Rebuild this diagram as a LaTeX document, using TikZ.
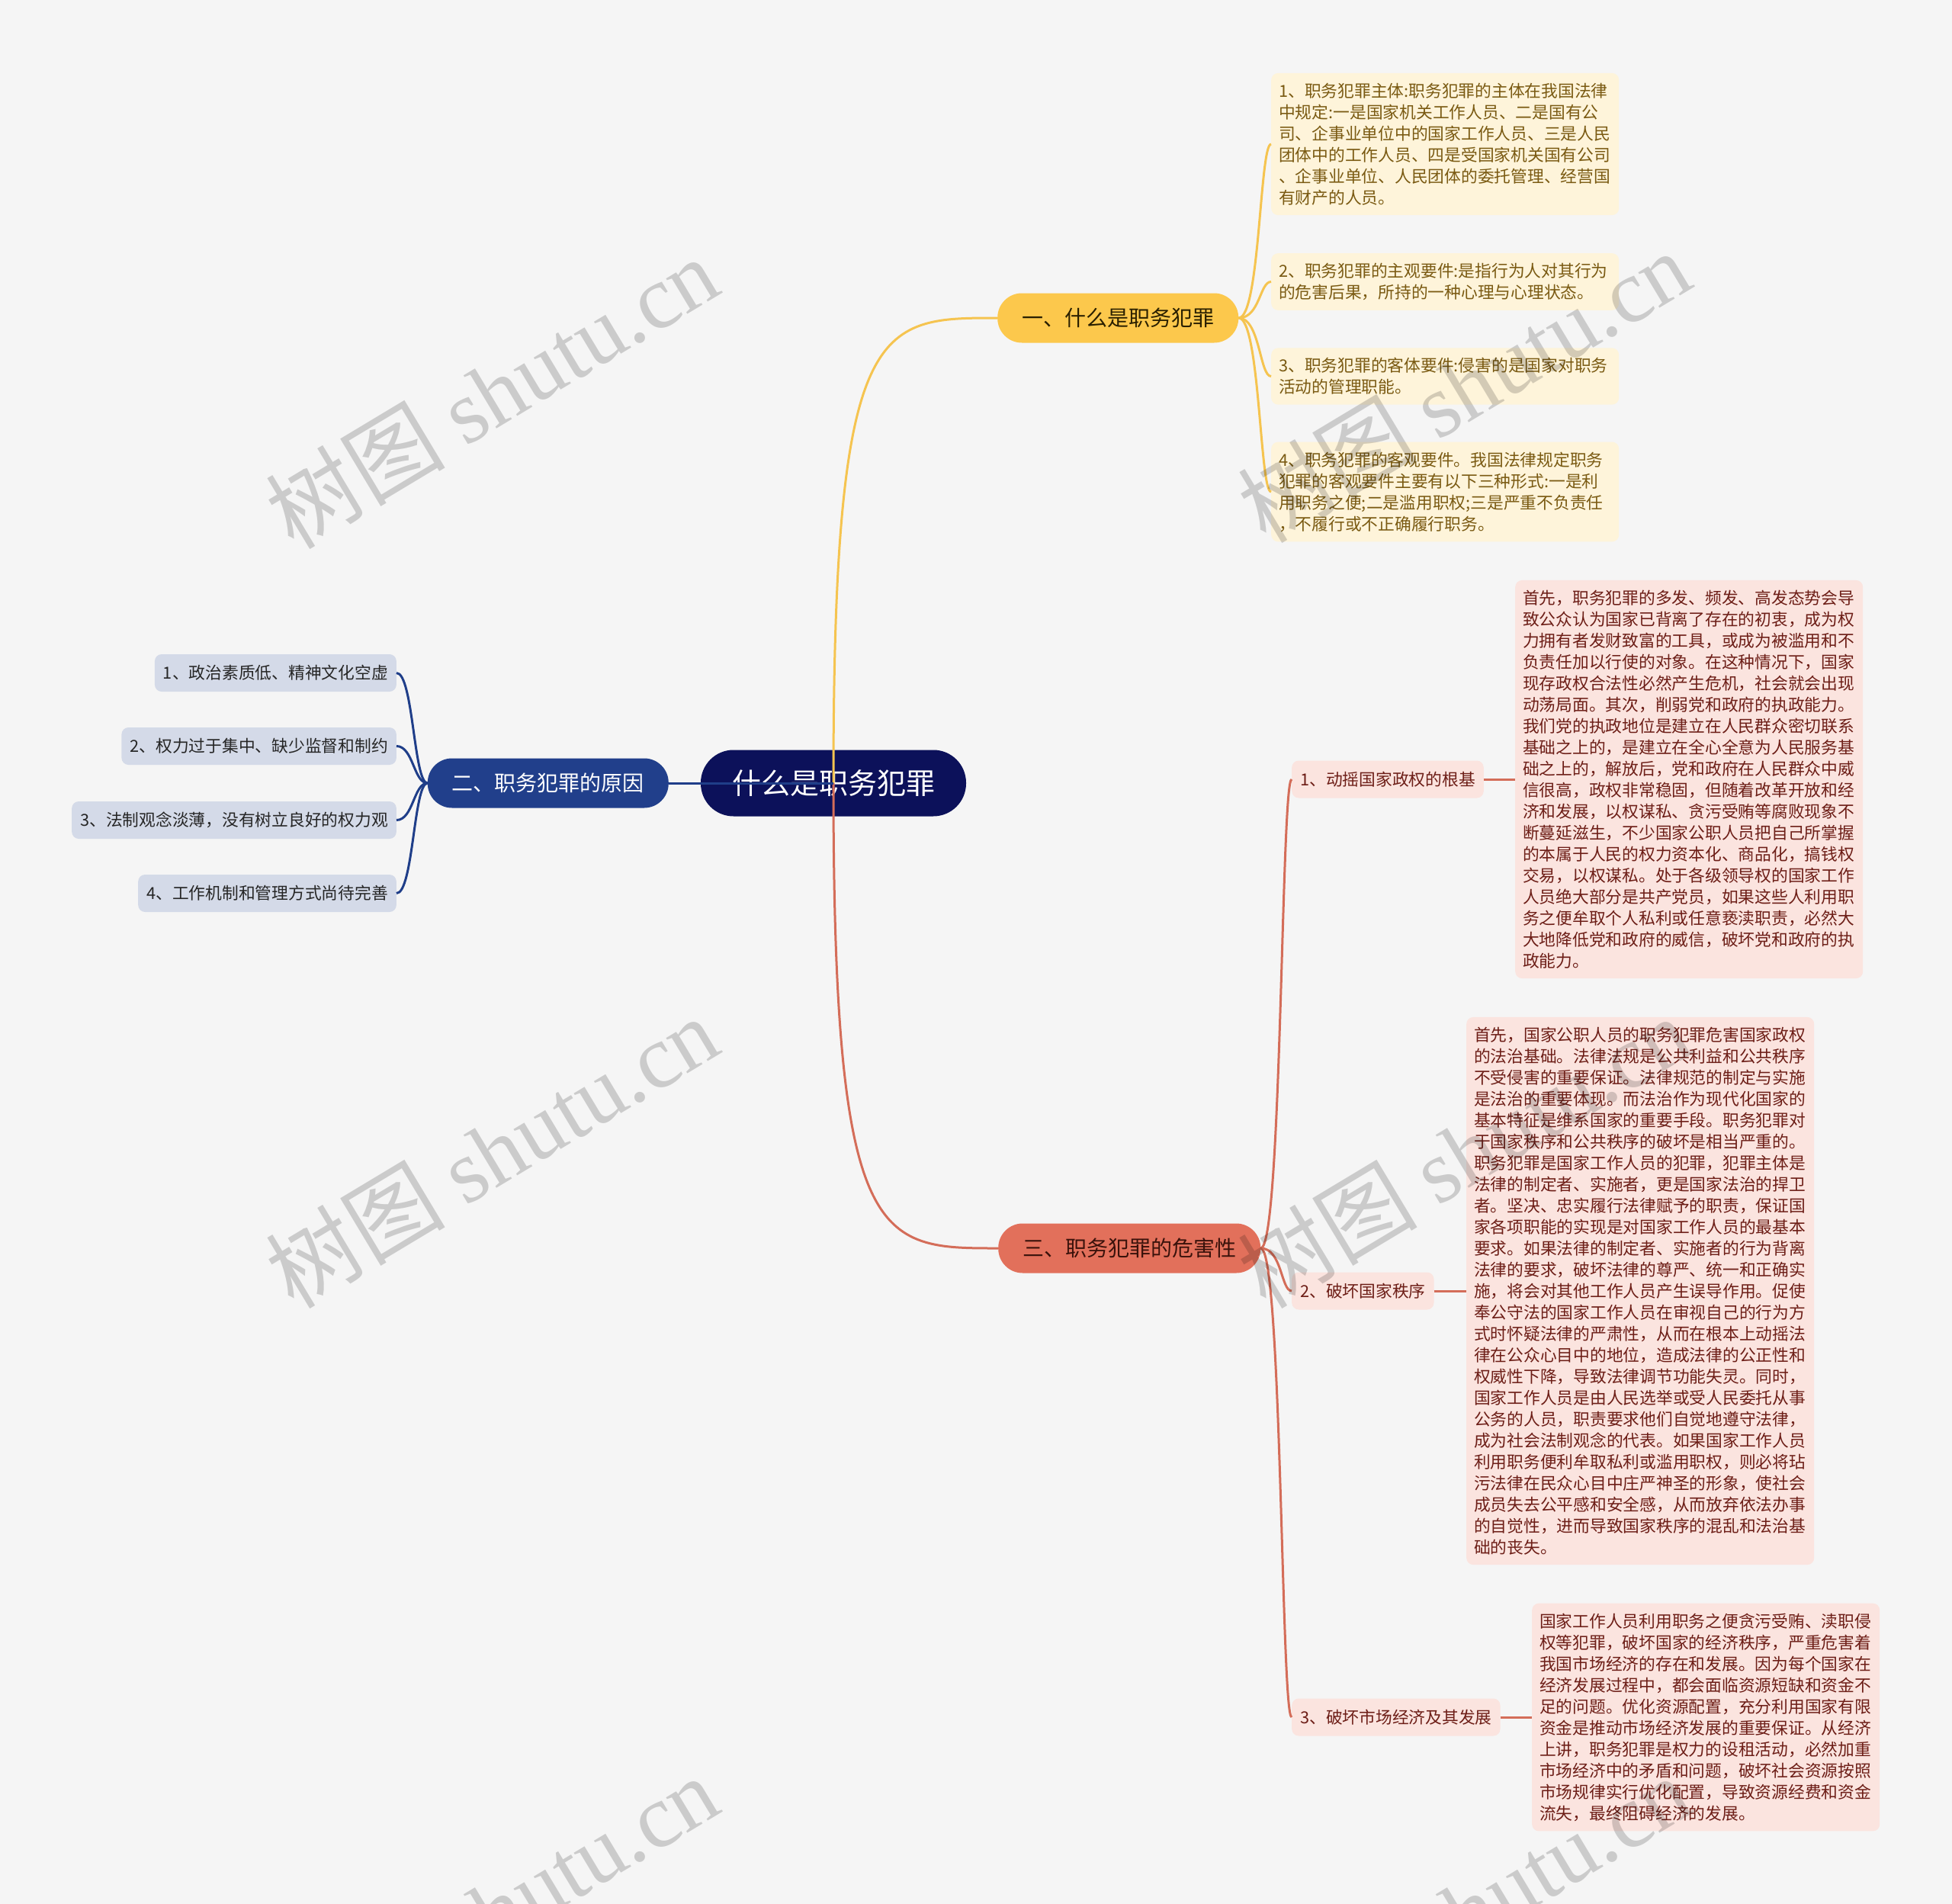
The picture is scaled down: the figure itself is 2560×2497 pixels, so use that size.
\documentclass[tikz,border=0pt]{standalone}
\usepackage{fontspec}
\setmainfont{Noto Sans CJK SC}
\newfontfamily\wmserif{Liberation Serif}
\usetikzlibrary{calc}
\definecolor{bgc}{HTML}{F5F5F5}
\definecolor{rootc}{HTML}{0C115A}
\definecolor{yfill}{HTML}{FCC84C}
\definecolor{ycol}{HTML}{F5C450}
\definecolor{ytext}{HTML}{2A2000}
\definecolor{ybox}{HTML}{FEF4DA}
\definecolor{yboxtext}{HTML}{7A5A12}
\definecolor{bfill}{HTML}{213F8B}
\definecolor{bcol}{HTML}{1F3E89}
\definecolor{bbox}{HTML}{D4DAE8}
\definecolor{bboxtext}{HTML}{262626}
\definecolor{rfill}{HTML}{E2705B}
\definecolor{rcol}{HTML}{D46D59}
\definecolor{rtext}{HTML}{3A120B}
\definecolor{rbox}{HTML}{FBE4DF}
\definecolor{rboxtext}{HTML}{6D1E17}
\tikzset{
  rootbox/.style={fill=rootc, text=white, rounded corners=43pt, minimum width=348pt,
    minimum height=87pt, inner sep=0pt, font=\fontsize{38}{44}\selectfont},
  branchbox/.style={rounded corners=32pt, minimum height=65pt, inner xsep=32pt,
    inner ysep=0pt, font=\fontsize{28}{32}\selectfont},
  leafbox/.style={rounded corners=9pt, minimum height=49pt, inner xsep=11pt,
    inner ysep=0pt, font=\fontsize{21.75}{28}\selectfont},
  textbox/.style={rounded corners=9pt, text width=436pt, align=left, inner xsep=10pt,
    inner ysep=13pt, font=\fontsize{21.75}{28}\selectfont},
  link/.style={line width=3pt},
  wm/.style={rotate=31, text=black, text opacity=0.17, inner sep=0pt,
    font=\fontsize{118}{130}\selectfont}
}
\begin{document}
\begin{tikzpicture}[x=1pt,y=-1pt]
\useasboundingbox (0,0) rectangle (2560,2497);
\clip (0,0) rectangle (2560,2497);
\fill[bgc] (0,0) rectangle (2560,2497);

% root and main branches
\node[rootbox] (root) at (1093,1027) {什么是职务犯罪};
\node[branchbox, fill=yfill, text=ytext, anchor=west] (b1) at (1308,417) {一、什么是职务犯罪};
\node[branchbox, fill=bfill, text=white, anchor=east] (b2) at (877,1027) {二、职务犯罪的原因};
\node[branchbox, fill=rfill, text=rtext, anchor=west] (b3) at (1309,1637) {三、职务犯罪的危害性};

\draw[link, ycol] (root.center) .. controls (root.center |- b1.west) and ([xshift=-158pt]b1.west) .. (b1.west);
\draw[link, rcol] (root.center) .. controls (root.center |- b3.west) and ([xshift=-158pt]b3.west) .. (b3.west);
\draw[link, bcol] (root.center) -- (b2.east);

% yellow group
\node[textbox, fill=ybox, text=yboxtext, anchor=west] (y1) at (1667,189) {1、职务犯罪主体:职务犯罪的主体在我国法律\\中规定:一是国家机关工作人员、二是国有公\\司、企事业单位中的国家工作人员、三是人民\\团体中的工作人员、四是受国家机关国有公司\\、企事业单位、人民团体的委托管理、经营国\\有财产的人员。};
\node[textbox, fill=ybox, text=yboxtext, anchor=west] (y2) at (1667,369.5) {2、职务犯罪的主观要件:是指行为人对其行为\\的危害后果，所持的一种心理与心理状态。};
\node[textbox, fill=ybox, text=yboxtext, anchor=west] (y3) at (1667,493.5) {3、职务犯罪的客体要件:侵害的是国家对职务\\活动的管理职能。};
\node[textbox, fill=ybox, text=yboxtext, anchor=west] (y4) at (1667,645) {4、职务犯罪的客观要件。我国法律规定职务\\犯罪的客观要件主要有以下三种形式:一是利\\用职务之便;二是滥用职权;三是严重不负责任\\，不履行或不正确履行职务。};
\foreach \n in {y1,y2,y3,y4}
  \draw[link, ycol] (b1.east) .. controls +(28,0) and +(-15,0) .. (\n.west);

% blue group
\node[leafbox, fill=bbox, text=bboxtext, anchor=east] (l1) at (520,882.5) {1、政治素质低、精神文化空虚};
\node[leafbox, fill=bbox, text=bboxtext, anchor=east] (l2) at (520,978.5) {2、权力过于集中、缺少监督和制约};
\node[leafbox, fill=bbox, text=bboxtext, anchor=east] (l3) at (520,1075.5) {3、法制观念淡薄，没有树立良好的权力观};
\node[leafbox, fill=bbox, text=bboxtext, anchor=east] (l4) at (520,1171.5) {4、工作机制和管理方式尚待完善};
\foreach \n in {l1,l2,l3,l4}
  \draw[link, bcol] (b2.west) .. controls +(-18,0) and +(22,0) .. (\n.east);

% red group
\node[leafbox, fill=rbox, text=rboxtext, anchor=west] (r1) at (1694,1022) {1、动摇国家政权的根基};
\node[leafbox, fill=rbox, text=rboxtext, anchor=west] (r2) at (1694,1693) {2、破坏国家秩序};
\node[leafbox, fill=rbox, text=rboxtext, anchor=west] (r3) at (1694,2252) {3、破坏市场经济及其发展};
\foreach \n in {r1,r2,r3}
  \draw[link, rcol] (b3.east) .. controls +(28,0) and +(-14,0) .. (\n.west);

\node[textbox, fill=rbox, text=rboxtext, anchor=west] (t1) at (1987,1022) {首先，职务犯罪的多发、频发、高发态势会导\\致公众认为国家已背离了存在的初衷，成为权\\力拥有者发财致富的工具，或成为被滥用和不\\负责任加以行使的对象。在这种情况下，国家\\现存政权合法性必然产生危机，社会就会出现\\动荡局面。其次，削弱党和政府的执政能力。\\我们党的执政地位是建立在人民群众密切联系\\基础之上的，是建立在全心全意为人民服务基\\础之上的，解放后，党和政府在人民群众中威\\信很高，政权非常稳固，但随着改革开放和经\\济和发展，以权谋私、贪污受贿等腐败现象不\\断蔓延滋生，不少国家公职人员把自己所掌握\\的本属于人民的权力资本化、商品化，搞钱权\\交易，以权谋私。处于各级领导权的国家工作\\人员绝大部分是共产党员，如果这些人利用职\\务之便牟取个人私利或任意亵渎职责，必然大\\大地降低党和政府的威信，破坏党和政府的执\\政能力。};
\node[textbox, fill=rbox, text=rboxtext, anchor=west] (t2) at (1923,1693) {首先，国家公职人员的职务犯罪危害国家政权\\的法治基础。法律法规是公共利益和公共秩序\\不受侵害的重要保证。法律规范的制定与实施\\是法治的重要体现。而法治作为现代化国家的\\基本特征是维系国家的重要手段。职务犯罪对\\于国家秩序和公共秩序的破坏是相当严重的。\\职务犯罪是国家工作人员的犯罪，犯罪主体是\\法律的制定者、实施者，更是国家法治的捍卫\\者。坚决、忠实履行法律赋予的职责，保证国\\家各项职能的实现是对国家工作人员的最基本\\要求。如果法律的制定者、实施者的行为背离\\法律的要求，破坏法律的尊严、统一和正确实\\施，将会对其他工作人员产生误导作用。促使\\奉公守法的国家工作人员在审视自己的行为方\\式时怀疑法律的严肃性，从而在根本上动摇法\\律在公众心目中的地位，造成法律的公正性和\\权威性下降，导致法律调节功能失灵。同时，\\国家工作人员是由人民选举或受人民委托从事\\公务的人员，职责要求他们自觉地遵守法律，\\成为社会法制观念的代表。如果国家工作人员\\利用职务便利牟取私利或滥用职权，则必将玷\\污法律在民众心目中庄严神圣的形象，使社会\\成员失去公平感和安全感，从而放弃依法办事\\的自觉性，进而导致国家秩序的混乱和法治基\\础的丧失。};
\node[textbox, fill=rbox, text=rboxtext, anchor=west] (t3) at (2009,2252) {国家工作人员利用职务之便贪污受贿、渎职侵\\权等犯罪，破坏国家的经济秩序，严重危害着\\我国市场经济的存在和发展。因为每个国家在\\经济发展过程中，都会面临资源短缺和资金不\\足的问题。优化资源配置，充分利用国家有限\\资金是推动市场经济发展的重要保证。从经济\\上讲，职务犯罪是权力的设租活动，必然加重\\市场经济中的矛盾和问题，破坏社会资源按照\\市场规律实行优化配置，导致资源经费和资金\\流失，最终阻碍经济的发展。};
\draw[link, rcol] (r1.east) -- (t1.west);
\draw[link, rcol] (r2.east) -- (t2.west);
\draw[link, rcol] (r3.east) -- (t3.west);

% watermarks
\node[wm] (wm1) at (645,514) {树图 {\wmserif shutu.cn}};
\node[wm] (wm2) at (645,1510) {树图 {\wmserif shutu.cn}};
\node[wm] (wm3) at (1920,506) {树图 {\wmserif shutu.cn}};
\node[wm] (wm4) at (1920,1510) {树图 {\wmserif shutu.cn}};
\node[wm] (wm5) at (645,2506) {树图 {\wmserif shutu.cn}};
\node[wm] (wm6) at (1920,2506) {树图 {\wmserif shutu.cn}};
\end{tikzpicture}
\end{document}
